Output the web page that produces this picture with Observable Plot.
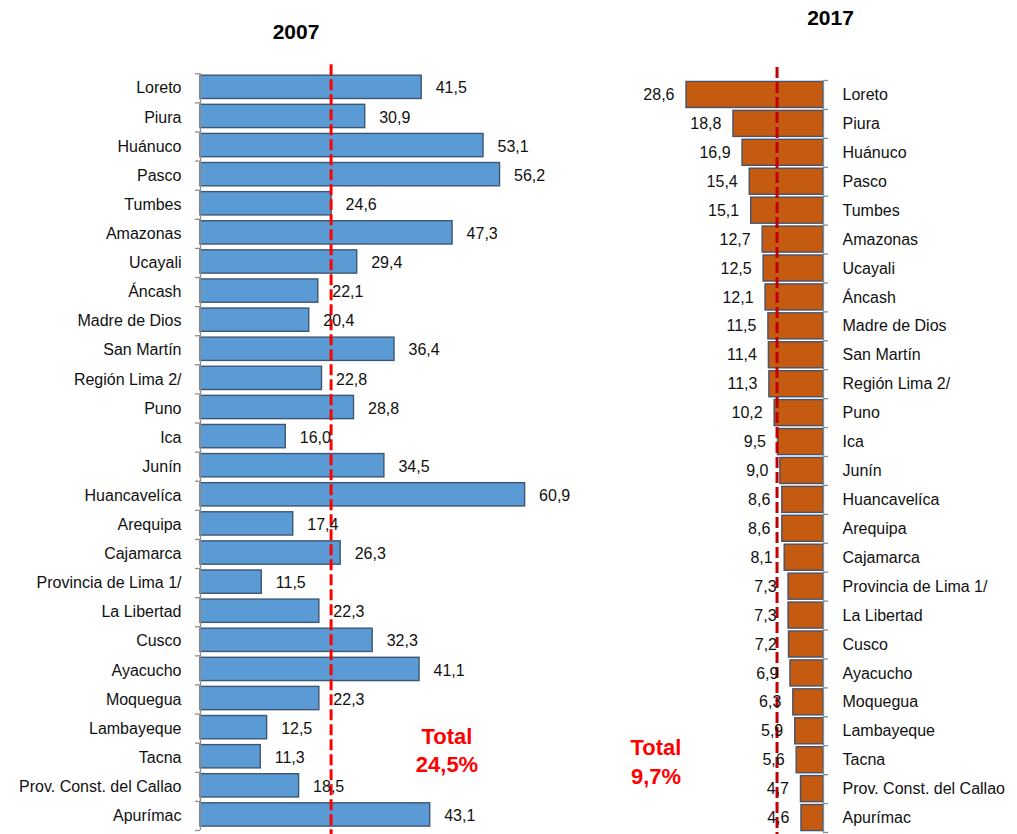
<!DOCTYPE html>
<html>
<head>
<meta charset="utf-8">
<script src="https://cdn.jsdelivr.net/npm/d3@7"></script>
<script src="https://cdn.jsdelivr.net/npm/@observablehq/plot@0.6"></script>
<style>
  html, body { margin: 0; padding: 0; background: #fff; }
  #wrap { position: relative; width: 1017px; height: 834px; overflow: hidden; font-family: "Liberation Sans", Arial, sans-serif; }
  #wrap > svg { position: absolute; top: 0; }
  .title { position: absolute; font-weight: bold; font-size: 21px; line-height: 21px; color: #000; text-align: center; width: 120px; }
  .total { position: absolute; font-weight: bold; font-size: 22px; color: #FF0000; text-align: center; width: 120px; }
</style>
</head>
<body>
<div id="wrap"></div>
<script>
// ---- data ----
const regions = ["Loreto", "Piura", "Huánuco", "Pasco", "Tumbes", "Amazonas", "Ucayali", "Áncash",
  "Madre de Dios", "San Martín", "Región Lima 2/", "Puno", "Ica", "Junín", "Huancavelíca", "Arequipa",
  "Cajamarca", "Provincia de Lima 1/", "La Libertad", "Cusco", "Ayacucho", "Moquegua", "Lambayeque",
  "Tacna", "Prov. Const. del Callao", "Apurímac"];
const values2007 = [41.5, 30.9, 53.1, 56.2, 24.6, 47.3, 29.4, 22.1, 20.4, 36.4, 22.8, 28.8, 16.0, 34.5,
  60.9, 17.4, 26.3, 11.5, 22.3, 32.3, 41.1, 22.3, 12.5, 11.3, 18.5, 43.1];
const values2017 = [28.6, 18.8, 16.9, 15.4, 15.1, 12.7, 12.5, 12.1, 11.5, 11.4, 11.3, 10.2, 9.5, 9.0,
  8.6, 8.6, 8.1, 7.3, 7.3, 7.2, 6.9, 6.3, 5.9, 5.6, 4.7, 4.6];
const years = ["2007", "2017"];
const totals = [24.5, 9.7];

const fmt = v => v.toFixed(1).replace(".", ",");
const rows2007 = regions.map((name, i) => ({name, value: values2007[i]}));
const rows2017 = regions.map((name, i) => ({name, value: values2017[i]}));

const wrap = document.getElementById("wrap");
const font = '"Liberation Sans", Arial, sans-serif';

// ---- left panel (2007) ----
{
  const H = 834, mt = 73.3, mb = 4;
  const step = (H - mt - mb) / regions.length;
  const tickLen = 5 / 5.33;
  const p = Plot.plot({
    width: 600, height: H,
    marginLeft: 200, marginRight: 26.9, marginTop: mt, marginBottom: mb,
    style: {fontFamily: font, fontSize: "16px", color: "#111", background: "transparent", overflow: "visible"},
    x: {domain: [0, 70], axis: null},
    y: {domain: regions, type: "band", paddingInner: 0.2, paddingOuter: 0.1, round: false},
    marks: [
      Plot.barX(rows2007, {x: "value", y: "name", fill: "#5B9BD5", stroke: "#3E5672", strokeWidth: 1.4, dy: -1}),
      Plot.ruleX([0], {stroke: "#8C8C8C", strokeWidth: 1.3}),
      Plot.ruleY(regions, {y: d => d, x1: 0, x2: -tickLen, dy: -step / 2, stroke: "#8C8C8C", strokeWidth: 1.3}),
      Plot.ruleY(regions.slice(-1), {y: d => d, x1: 0, x2: -tickLen, dy: step / 2, stroke: "#8C8C8C", strokeWidth: 1.3}),
      Plot.ruleX([totals[0]], {stroke: "#FF0000", strokeWidth: 3, strokeDasharray: "11,4", insetTop: -9, insetBottom: -4}),
      Plot.text(rows2007, {x: "value", y: "name", text: d => fmt(d.value), textAnchor: "start", dx: 14, fill: "#111", fontSize: 16}),
      Plot.axisY({anchor: "left", tickSize: 0, tickPadding: 19, fontSize: 16, label: null})
    ]
  });
  p.style.left = "0px";
  wrap.appendChild(p);
}

// ---- right panel (2017) ----
{
  const H = 834, mt = 80, mb = 2;
  const step = (H - mt - mb) / regions.length;
  const tickLen = 5 / 4.79;
  const p = Plot.plot({
    width: 417, height: H,
    marginLeft: 31.4, marginRight: 194, marginTop: mt, marginBottom: mb,
    style: {fontFamily: font, fontSize: "16px", color: "#111", background: "transparent", overflow: "visible"},
    x: {domain: [0, 40], reverse: true, axis: null},
    y: {domain: regions, type: "band", paddingInner: 0.1, paddingOuter: 0.05, round: false},
    marks: [
      Plot.barX(rows2017, {x: "value", y: "name", fill: "#C55A11", stroke: "#46526A", strokeWidth: 1.4}),
      Plot.ruleX([0], {stroke: "#8C8C8C", strokeWidth: 1.3}),
      Plot.ruleY(regions, {y: d => d, x1: 0, x2: -tickLen, dy: -step / 2, stroke: "#8C8C8C", strokeWidth: 1.3}),
      Plot.ruleY(regions.slice(-1), {y: d => d, x1: 0, x2: -tickLen, dy: step / 2, stroke: "#8C8C8C", strokeWidth: 1.3}),
      Plot.ruleX([totals[1]], {stroke: "#C00000", strokeWidth: 3, strokeDasharray: "11,4", insetTop: -13, insetBottom: -2}),
      Plot.text(rows2017, {x: "value", y: "name", text: d => fmt(d.value), textAnchor: "end", dx: -12, fill: "#111", fontSize: 16}),
      Plot.axisY({anchor: "right", tickSize: 0, tickPadding: 19, fontSize: 16, label: null})
    ]
  });
  p.style.left = "600px";
  wrap.appendChild(p);
}

// ---- titles and totals ----
function addDiv(cls, text, left, top, lh) {
  const d = document.createElement("div");
  d.className = cls;
  d.innerHTML = text;
  d.style.left = left + "px";
  d.style.top = top + "px";
  if (lh) d.style.lineHeight = lh + "px";
  wrap.appendChild(d);
}
addDiv("title", years[0], 296 - 60, 20.5);
addDiv("title", years[1], 830.5 - 60, 7.2);
addDiv("total", "Total<br>" + fmt(totals[0]) + "%", 447 - 60, 723.4, 28);
addDiv("total", "Total<br>" + fmt(totals[1]) + "%", 656 - 60, 733.4, 29);
</script>
</body>
</html>
